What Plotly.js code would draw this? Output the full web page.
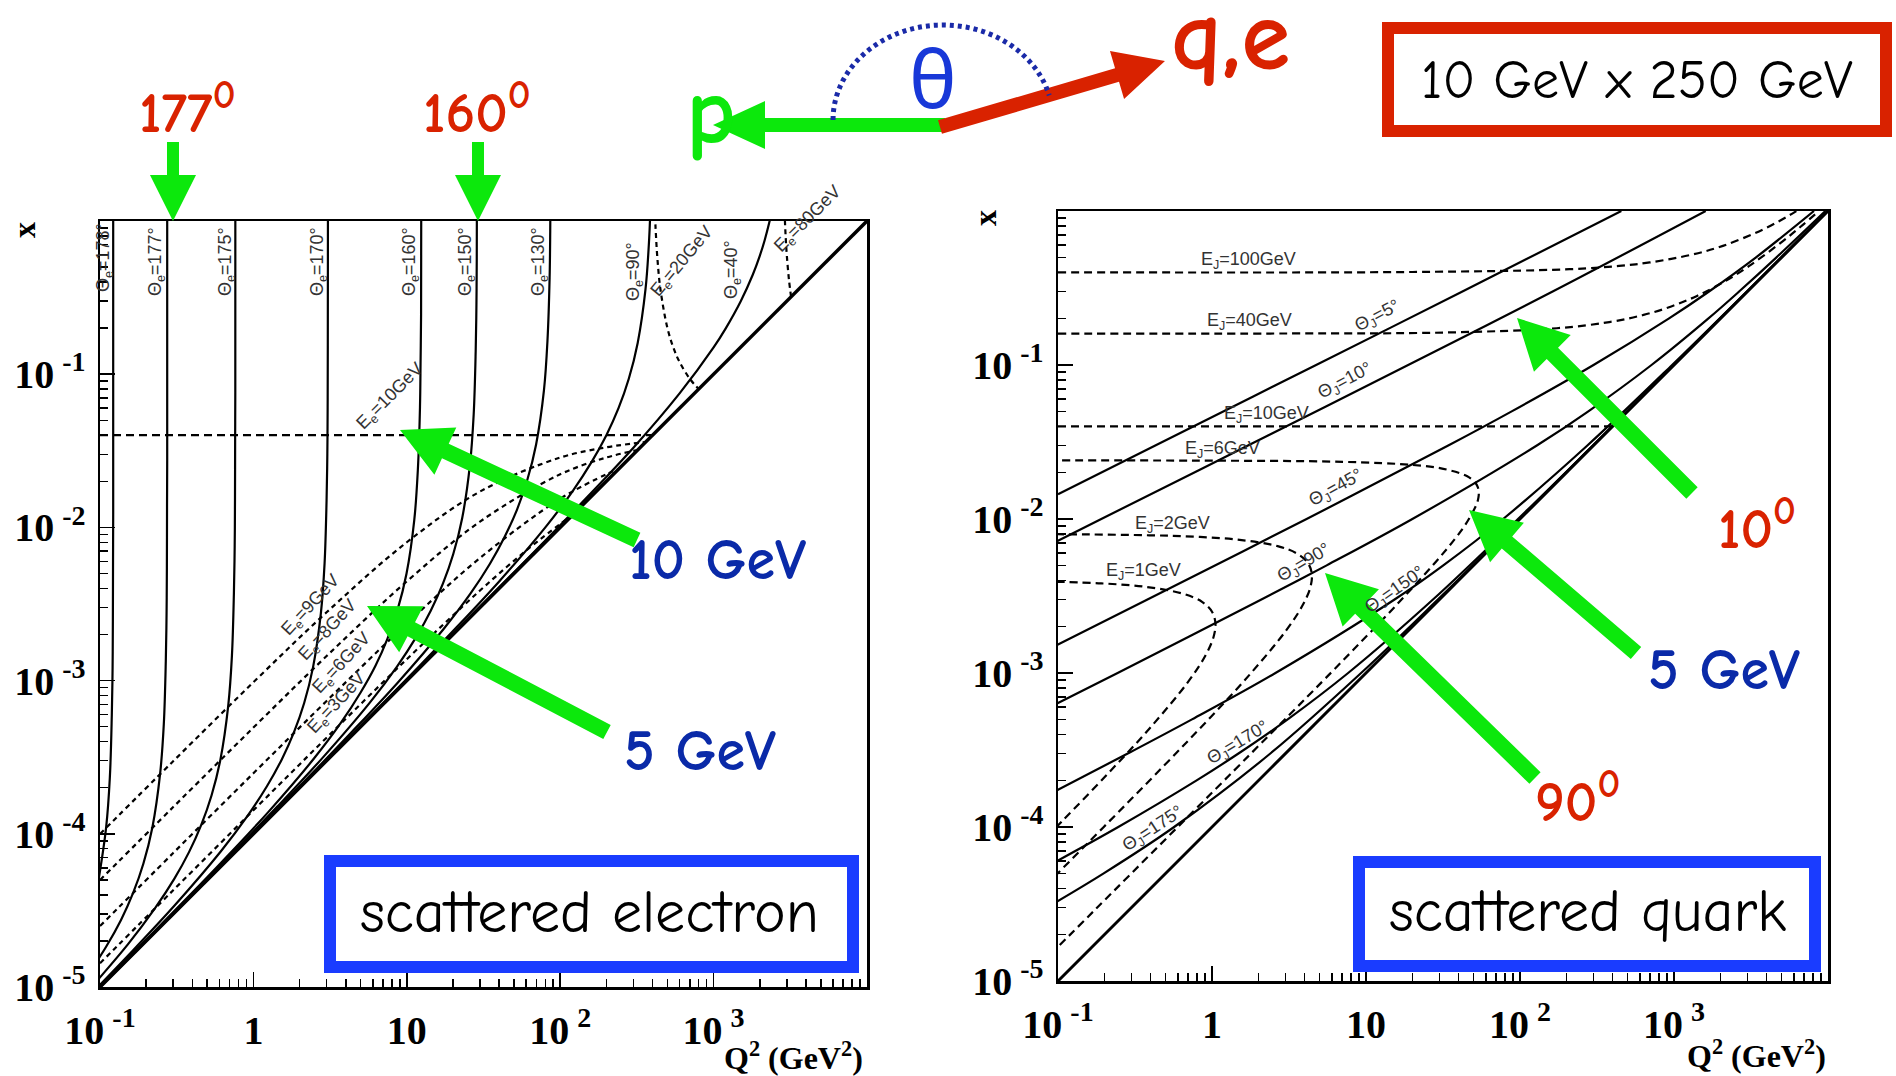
<!DOCTYPE html>
<html><head><meta charset="utf-8">
<script src="https://cdn.plot.ly/plotly-3.0.1.min.js"></script>
<style>html,body{margin:0;padding:0;background:#fff;overflow:hidden}#chart{width:1896px;height:1076px}</style>
</head><body><div id="chart"></div>
<script>
// ---------------- tick labels ----------------
const xTickVals = [0.1, 1, 10, 100, 1000];
const xTickText = ['10\u2009<sup>-1</sup>', '1', '10', '10\u2009<sup>2</sup>', '10\u2009<sup>3</sup>'];
const yTickVals = [1e-5, 1e-4, 1e-3, 1e-2, 1e-1];
const yTickText = ['10\u2009<sup>-5</sup>', '10\u2009<sup>-4</sup>', '10\u2009<sup>-3</sup>', '10\u2009<sup>-2</sup>', '10\u2009<sup>-1</sup>'];

// ---------------- scattered electron : constant angle (Q2, x) ----------------
const eTh178Q2 = [0.0975,0.1096,0.1159,0.1194,0.1208,0.1213,0.1216,0.1219,0.1219];
const eTh178X  = [4.88e-5,1.096e-4,2.32e-4,5.97e-4,1.21e-3,2.42e-3,6.08e-3,0.0122,1.3];
const eTh177Q2 = [0.0822,0.1096,0.1371,0.1644,0.1919,0.2193,0.2466,0.2606,0.2685,0.2716,0.2729,0.2735,0.2742,0.2742];
const eTh177X  = [1.175e-5,1.83e-5,2.74e-5,4.11e-5,6.40e-5,1.096e-4,2.47e-4,5.21e-4,1.34e-3,2.72e-3,5.43e-3,0.0137,0.0274,1.4];
const eTh175Q2 = [0.0762,0.1524,0.2286,0.3048,0.3811,0.4571,0.5333,0.6095,0.6855,0.7244,0.7464,0.7551,0.7586,0.7603,0.7621,0.7625];
const eTh175X  = [8.47e-6,1.905e-5,3.27e-5,5.08e-5,7.62e-5,1.143e-4,1.778e-4,3.05e-4,6.86e-4,1.449e-3,3.73e-3,7.55e-3,0.0151,0.038,0.0762,1.4];
const eTh170Q2 = [0.0918,0.1531,0.3062,0.6124,0.9183,1.225,1.531,1.837,2.143,2.449,2.754,2.911,2.999,3.034,3.048,3.055,3.062];
const eTh170X  = [9.46e-6,1.611e-5,3.40e-5,7.66e-5,1.312e-4,2.042e-4,3.06e-4,4.59e-4,7.14e-4,1.225e-3,2.754e-3,5.82e-3,0.015,0.0303,0.0607,0.153,1.3];
const eTh160Q2 = [0.0622,0.1245,0.3733,0.6223,1.245,2.489,3.733,4.977,6.237,7.464,8.71,9.954,11.19,11.80,12.19,12.30,12.39,12.42];
const eTh160X  = [6.25e-6,1.256e-5,3.85e-5,6.55e-5,1.38e-4,3.11e-4,5.33e-4,8.30e-4,1.245e-3,1.866e-3,2.904e-3,4.98e-3,0.01119,0.0236,0.061,0.123,0.246,1.3];
const eTh150Q2 = [0.0287,0.1436,0.2871,0.861,1.436,2.871,5.741,8.61,11.48,14.35,17.22,20.09,22.96,25.82,27.29,28.12,28.44,28.58,28.64];
const eTh150X  = [2.88e-6,1.442e-5,2.904e-5,8.87e-5,1.51e-4,3.19e-4,7.18e-4,1.23e-3,1.914e-3,2.871e-3,4.31e-3,6.70e-3,0.01148,0.0258,0.0546,0.1406,0.2844,0.569,1.43];
const eTh130Q2 = [0.00869,0.0869,0.4345,0.869,2.612,4.345,8.69,17.38,26.12,34.83,43.45,52.24,60.95,69.66,78.34,82.6,85.31,86.1,86.5];
const eTh130X  = [8.69e-7,8.71e-6,4.37e-5,8.79e-5,2.69e-4,4.58e-4,9.66e-4,2.173e-3,3.72e-3,5.79e-3,8.69e-3,0.01303,0.0203,0.0348,0.0783,0.165,0.427,0.861,1.72];
const eTh90Q2  = [0.04,0.4,2,4,12,20,40,80,120,160,200,240,280,320,360,380,388];
const eTh90X   = [4.0e-6,4.0e-5,2.01e-4,4.04e-4,1.237e-3,2.105e-3,4.44e-3,0.01,0.01714,0.02667,0.04,0.06,0.0933,0.16,0.36,0.76,1.29];
const eTh40Q2  = [0.05,1,10,100,300,600,1000,1200,1500,1800,2000,2150,2300,2400];
const eTh40X   = [5.0e-6,1.0e-4,1.003e-3,0.01034,0.0331,0.0749,0.1495,0.1991,0.2981,0.4457,0.5924,0.7466,0.9652,1.17];
// kinematic limit y = 1
const yOneQ2 = [0.1, 10000];
const yOneX  = [1e-5, 1];

// ---------------- scattered electron : constant energy ----------------
const eE10Q2 = [0.1, 400];
const eE10X  = [0.04, 0.04];
const eE9Q2  = [0.1,0.3,1,3,10,30,100,200,300,360];
const eE9X   = [9.975e-5,2.978e-4,9.756e-4,2.791e-3,8.0e-3,0.01714,0.02857,0.03333,0.03529,0.036];
const eE8Q2  = [0.1,0.3,1,3,10,30,100,200,320];
const eE8X   = [4.994e-5,1.494e-4,4.938e-4,1.446e-3,4.444e-3,0.01091,0.02222,0.02857,0.032];
const eE6Q2  = [0.1,0.3,1,3,10,30,100,200,240];
const eE6X   = [2.498e-5,7.49e-5,2.484e-4,7.36e-4,2.353e-3,6.316e-3,0.01538,0.02222,0.024];
const eE3Q2  = [0.1,0.3,1,3,10,30,60,100,120];
const eE3X   = [1.428e-5,4.28e-5,1.4235e-4,4.24e-4,1.379e-3,3.871e-3,7.06e-3,0.01053,0.012];
const eE20Q2 = [410,416.7,420,430,450,500,550,600,700,800];
const eE20X  = [1.64,1.0,0.84,0.573,0.36,0.2,0.1467,0.12,0.0933,0.08];
const eE80Q2 = [2900,2950,3000,3100,3200];
const eE80X  = [1.16,0.787,0.6,0.4133,0.32];

// ---------------- scattered quark : constant angle ----------------
const qTh5Q2   = [0.1,0.4283,4.743,42.29,454.9];
const qTh5X    = [0.01449,0.03,0.1,0.3,1];
const qTh10Q2  = [0.09364,0.191,1.712,18.78,162.9,1606];
const qTh10X   = [0.007,0.01,0.03,0.1,0.3,1];
const qTh45Q2  = [0.0959,0.3811,4.113,34.2,88.3,300.2,923.5,1688,3410,8109];
const qTh45X   = [1.5e-3,3e-3,0.01,0.03,0.05,0.1,0.2,0.3,0.5,1];
const qTh90Q2  = [0.08867,0.2439,2.093,5.556,20,128.6,277.8,714.3,1666.7,2647,4630,9615];
const qTh90X   = [6e-4,1e-3,3e-3,5e-3,0.01,0.03,0.05,0.1,0.2,0.3,0.5,1];
const qTh150Q2 = [0.08444,0.2837,0.7414,2.583,15.33,31.76,77.69,273.8,972.1,2972,9971];
const qTh150X  = [1.6e-4,3e-4,5e-4,1e-3,3e-3,5e-3,0.01,0.03,0.1,0.3,1];
const qTh170Q2 = [0.07019,0.2462,0.7902,1.485,3.101,7.656,27.22,97.03,297.0,997,2997,9997];
const qTh170X  = [5e-5,1e-4,2e-4,3e-4,5e-4,1e-3,3e-3,0.01,0.03,0.1,0.3,1];
const qTh175Q2 = [0.08471,0.198,0.5674,2.392,9.292,29.26,99.24,299.2,999.2,2999,10000];
const qTh175X  = [3e-5,5e-5,1e-4,3e-4,1e-3,3e-3,0.01,0.03,0.1,0.3,1];

// ---------------- scattered quark : constant energy ----------------
const qE100Q2 = [0.1,20.09,209.5,440,695.3,1300,2078,3800,5640,6516];
const qE100X  = [0.4,0.4018,0.4189,0.44,0.4635,0.52,0.5938,0.76,0.94,1.026];
const qE40Q2  = [0.1,3.205,32.5,173.3,380,634.3,960,1400,2040,3080,5120,6636,8750];
const qE40X   = [0.16,0.1602,0.1625,0.1733,0.19,0.2114,0.24,0.28,0.34,0.44,0.64,0.79,1.0];
const qE10Q2  = [0.1, 400];
const qE10X   = [0.04, 0.04];
const qE6Q2   = [0.072,0.7186,7.052,20.18,31.76,45.47,51.43,53.19,54.0,53.7,52.14,44.31,37.47,28.17,15.91,8.458,5.202,1.778,0.1798,0.0899];
const qE6X    = [0.024,0.02395,0.02351,0.02242,0.02118,0.01895,0.01714,0.01612,0.015,0.01377,0.01241,0.00923,0.007347,0.005217,0.002791,0.001446,8.80e-4,2.978e-4,2.998e-5,1.5e-5];
const qE2Q2   = [0.07968,0.1587,0.392,0.7677,1.469,2.667,3.574,4.174,4.444,4.364,3.907,3.048,1.756,0.9383,0.4845,0.1975,0.0994,0.04984];
const qE2X    = [7.968e-3,7.936e-3,7.839e-3,7.677e-3,7.347e-3,6.667e-3,5.957e-3,5.217e-3,4.444e-3,3.636e-3,2.791e-3,1.905e-3,9.756e-4,4.938e-4,2.484e-4,9.975e-5,4.994e-5,2.498e-5];
const qE1Q2   = [0.09774,0.191,0.3636,0.6531,0.866,1.0,1.0526,1.0213,0.9032,0.6957,0.3956,0.2099,0.108,0.0869];
const qE1X    = [3.91e-3,3.819e-3,3.636e-3,3.265e-3,2.887e-3,2.5e-3,2.105e-3,1.702e-3,1.29e-3,8.696e-4,4.396e-4,2.21e-4,1.108e-4,8.87e-5];

// ================= layout helpers =================
const W = 1896, H = 1076;
const PX = v => v / W, PY = v => 1 - v / H;
const L_DX = [PX(100), PX(867)], L_DY = [PY(987), PY(221)];
const R_DX = [PX(1058), PX(1828)], R_DY = [PY(981), PY(211)];

const RED = '#d92200', GREEN = '#0ce80c', DBLUE = '#0a2aa8', BBLUE = '#1a3cff';
const COMIC = "'Comic Sans MS','Comic Neue','Noto Sans',sans-serif";
const SERIF = "'Liberation Serif','Times New Roman',serif";
const LBL = "'Liberation Sans',Arial,sans-serif";

function curve(xs, ys, side, extra) {
  return {
    type: 'scatter', mode: 'lines', x: xs, y: ys,
    xaxis: side === 'L' ? 'x' : 'x2', yaxis: side === 'L' ? 'y' : 'y2',
    hoverinfo: 'skip', showlegend: false,
    line: Object.assign({color: 'black', width: 2.2, shape: 'spline', smoothing: 1}, extra || {})
  };
}
const DASH_A = '8px,5px', DASH_B = '5px,4px';

const traces = [
  curve(eTh178Q2, eTh178X, 'L'), curve(eTh177Q2, eTh177X, 'L'), curve(eTh175Q2, eTh175X, 'L'),
  curve(eTh170Q2, eTh170X, 'L'), curve(eTh160Q2, eTh160X, 'L'), curve(eTh150Q2, eTh150X, 'L'),
  curve(eTh130Q2, eTh130X, 'L'), curve(eTh90Q2, eTh90X, 'L'), curve(eTh40Q2, eTh40X, 'L'),
  curve(yOneQ2, yOneX, 'L', {width: 3.5}),
  curve(eE10Q2, eE10X, 'L', {dash: DASH_A}),
  curve(eE9Q2, eE9X, 'L', {dash: DASH_B}), curve(eE8Q2, eE8X, 'L', {dash: DASH_B}),
  curve(eE6Q2, eE6X, 'L', {dash: DASH_B}), curve(eE3Q2, eE3X, 'L', {dash: DASH_B}),
  curve(eE20Q2, eE20X, 'L', {dash: DASH_B}), curve(eE80Q2, eE80X, 'L', {dash: DASH_B}),

  curve(qTh5Q2, qTh5X, 'R'), curve(qTh10Q2, qTh10X, 'R'), curve(qTh45Q2, qTh45X, 'R'),
  curve(qTh90Q2, qTh90X, 'R'), curve(qTh150Q2, qTh150X, 'R'), curve(qTh170Q2, qTh170X, 'R'),
  curve(qTh175Q2, qTh175X, 'R'),
  curve(yOneQ2, yOneX, 'R', {width: 3}),
  curve(qE100Q2, qE100X, 'R', {dash: DASH_A}), curve(qE40Q2, qE40X, 'R', {dash: DASH_A}),
  curve(qE10Q2, qE10X, 'R', {dash: DASH_A}), curve(qE6Q2, qE6X, 'R', {dash: DASH_A}),
  curve(qE2Q2, qE2X, 'R', {dash: DASH_A}), curve(qE1Q2, qE1X, 'R', {dash: DASH_A})
];

const minorVals = [];
for (let e = -5; e < 4; e++) for (let m = 2; m <= 9; m++) minorVals.push(m * Math.pow(10, e));

function axis(kind, domain, anchor) {
  const isX = kind === 'x';
  return {
    type: 'log', range: isX ? [-1, 4] : [-5, 0], domain, anchor,
    showline: true, mirror: true, linecolor: 'black', linewidth: 2.5,
    ticks: 'inside', ticklen: 15, tickwidth: 1.5, tickcolor: 'black',
    tickmode: 'array', tickvals: isX ? xTickVals : yTickVals, ticktext: isX ? xTickText : yTickText,
    tickfont: {family: SERIF, size: 40, color: 'black', weight: 'bold'},
    ticklabelstandoff: isX ? 6 : 4,
    minor: {tickmode: 'array', tickvals: minorVals, ticks: 'inside', ticklen: 8, tickwidth: 1.5, tickcolor: 'black', showgrid: false},
    showgrid: false, zeroline: false, fixedrange: true
  };
}

// ================= annotations =================
const A = [];
function ann(text, x, y, size, color, extra) {
  const o = {text, x: PX(x), y: PY(y), xref: 'paper', yref: 'paper', xanchor: 'center', yanchor: 'middle',
    showarrow: false, font: {family: COMIC, size, color}};
  if (extra) { if (extra.font) { Object.assign(o.font, extra.font); delete extra.font; } Object.assign(o, extra); }
  A.push(o);
}
// header
ann('177<sup>0</sup>', 187, 109, 57, RED, {font: {weight: 'bold'}});
ann('160<sup>0</sup>', 477, 109, 57, RED, {font: {weight: 'bold'}});
ann('p', 711, 112, 96, GREEN, {font: {weight: 'bold'}});
ann('θ', 933, 82, 80, '#1838d8');
ann('q,e', 1230, 36, 100, RED, {font: {weight: 'bold'}});
ann('10 GeV x 250 GeV', 1637, 80, 54, 'black');
// left plot callouts
ann('10 GeV', 717, 560, 58, DBLUE, {font: {weight: 'bold'}});
ann('5 GeV', 700, 751, 58, DBLUE, {font: {weight: 'bold'}});
ann('scattered electron', 589, 912, 60, 'black');
// right plot callouts
ann('10<sup>0</sup>', 1757, 525, 57, RED, {font: {weight: 'bold'}});
ann('5 GeV', 1724, 670, 58, DBLUE, {font: {weight: 'bold'}});
ann('90<sup>0</sup>', 1577, 798, 57, RED, {font: {weight: 'bold'}});
ann('scattered quark', 1587, 911, 60, 'black');
// axis titles
ann('x', 24, 230, 32, 'black', {textangle: -90, font: {family: SERIF, weight: 'bold'}});
ann('x', 985, 218, 32, 'black', {textangle: -90, font: {family: SERIF, weight: 'bold'}});
ann('Q<sup>2</sup> (GeV<sup>2</sup>)', 865, 1056, 32, 'black', {xanchor: 'right', font: {family: SERIF, weight: 'bold'}});
ann('Q<sup>2</sup> (GeV<sup>2</sup>)', 1828, 1054, 32, 'black', {xanchor: 'right', font: {family: SERIF, weight: 'bold'}});

// curve labels (electron)
const lblFont = {family: LBL, weight: 'normal'};
[['Θ<sub>e</sub>=178°', 104, 258], ['Θ<sub>e</sub>=177°', 157, 262], ['Θ<sub>e</sub>=175°', 227, 262],
 ['Θ<sub>e</sub>=170°', 319, 262], ['Θ<sub>e</sub>=160°', 411, 262], ['Θ<sub>e</sub>=150°', 467, 262],
 ['Θ<sub>e</sub>=130°', 540, 262], ['Θ<sub>e</sub>=90°', 635, 272], ['Θ<sub>e</sub>=40°', 732, 270]
].forEach(d => ann(d[0], d[1], d[2], 18, '#333', {textangle: -90, font: lblFont}));
[['E<sub>e</sub>=20GeV', 683, 262, -50], ['E<sub>e</sub>=80GeV', 808, 219, -45], ['E<sub>e</sub>=10GeV', 391, 397, -45],
 ['E<sub>e</sub>=9GeV', 311, 605, -47], ['E<sub>e</sub>=8GeV', 328, 630, -47], ['E<sub>e</sub>=6GeV', 342, 663, -47],
 ['E<sub>e</sub>=3GeV', 337, 703, -47]
].forEach(d => ann(d[0], d[1], d[2], 18, '#333', {textangle: d[3], font: lblFont}));
// curve labels (quark)
[['E<sub>J</sub>=100GeV', 1248, 260], ['E<sub>J</sub>=40GeV', 1249, 321], ['E<sub>J</sub>=10GeV', 1266, 415],
 ['E<sub>J</sub>=6GeV', 1222, 449], ['E<sub>J</sub>=2GeV', 1172, 524], ['E<sub>J</sub>=1GeV', 1143, 571]
].forEach(d => ann(d[0], d[1], d[2], 18, '#333', {font: lblFont}));
[['Θ<sub>J</sub>=5°', 1378, 317, -28], ['Θ<sub>J</sub>=10°', 1345, 381, -28], ['Θ<sub>J</sub>=45°', 1336, 488, -29],
 ['Θ<sub>J</sub>=90°', 1304, 563, -31], ['Θ<sub>J</sub>=150°', 1395, 590, -35], ['Θ<sub>J</sub>=170°', 1238, 743, -31],
 ['Θ<sub>J</sub>=175°', 1153, 829, -33]
].forEach(d => ann(d[0], d[1], d[2], 18, '#333', {textangle: d[3], font: lblFont}));

// ================= shapes =================
const S = [];
function arrow(x0, y0, x1, y1, sw, hw, hl, color) {
  const dx = x1 - x0, dy = y1 - y0, L = Math.hypot(dx, dy), ux = dx / L, uy = dy / L, nx = -uy, ny = ux;
  const bx = x1 - ux * hl, by = y1 - uy * hl;
  const pts = [[x0 + nx * sw / 2, y0 + ny * sw / 2], [bx + nx * sw / 2, by + ny * sw / 2], [bx + nx * hw / 2, by + ny * hw / 2],
    [x1, y1], [bx - nx * hw / 2, by - ny * hw / 2], [bx - nx * sw / 2, by - ny * sw / 2], [x0 - nx * sw / 2, y0 - ny * sw / 2]];
  S.push({type: 'path', xref: 'paper', yref: 'paper', layer: 'above', fillcolor: color, line: {width: 0},
    path: 'M' + pts.map(p => PX(p[0]).toFixed(5) + ',' + PY(p[1]).toFixed(5)).join('L') + 'Z'});
}
function box(x0, y0, x1, y1, color, lw) {
  S.push({type: 'rect', xref: 'paper', yref: 'paper', layer: 'above', x0: PX(x0), x1: PX(x1), y0: PY(y1), y1: PY(y0),
    fillcolor: 'white', line: {color, width: lw}});
}
// header arrows
arrow(173, 142, 173, 221, 12, 46, 46, GREEN);
arrow(478, 142, 478, 221, 12, 46, 46, GREEN);
arrow(945, 125, 713, 125, 14, 48, 52, GREEN);
arrow(940, 127, 1165, 61, 14, 50, 50, RED);
// theta arc
(function () {
  const cx = 943, cy = 120, rx = 110, ry = 95; const pts = [];
  for (let t = 180; t >= 13; t -= 3) { const r = t * Math.PI / 180; pts.push([cx + rx * Math.cos(r), cy - ry * Math.sin(r)]); }
  S.push({type: 'path', xref: 'paper', yref: 'paper', layer: 'above', line: {color: '#1a2aa8', width: 5, dash: '4px,4px'},
    path: 'M' + pts.map(p => PX(p[0]).toFixed(5) + ',' + PY(p[1]).toFixed(5)).join('L')});
})();
// plot arrows
arrow(637, 540, 400, 430, 16, 52, 50, GREEN);
arrow(607, 732, 367, 606, 16, 52, 50, GREEN);
arrow(1692, 493, 1517, 318, 16, 52, 50, GREEN);
arrow(1636, 653, 1469, 510, 16, 52, 50, GREEN);
arrow(1535, 778, 1325, 573, 16, 52, 50, GREEN);
// boxes
box(1388, 28, 1886, 131, RED, 12);
box(330, 861, 853, 967, BBLUE, 12);
box(1359, 862, 1815, 966, BBLUE, 12);

const layout = {
  width: W, height: H, margin: {l: 0, r: 0, t: 0, b: 0, pad: 0},
  paper_bgcolor: 'white', plot_bgcolor: 'white', showlegend: false,
  xaxis: axis('x', L_DX, 'y'), yaxis: axis('y', L_DY, 'x'),
  xaxis2: axis('x', R_DX, 'y2'), yaxis2: axis('y', R_DY, 'x2'),
  annotations: A, shapes: S
};
Plotly.newPlot('chart', traces, layout, {staticPlot: true, displayModeBar: false});
</script></body></html>
